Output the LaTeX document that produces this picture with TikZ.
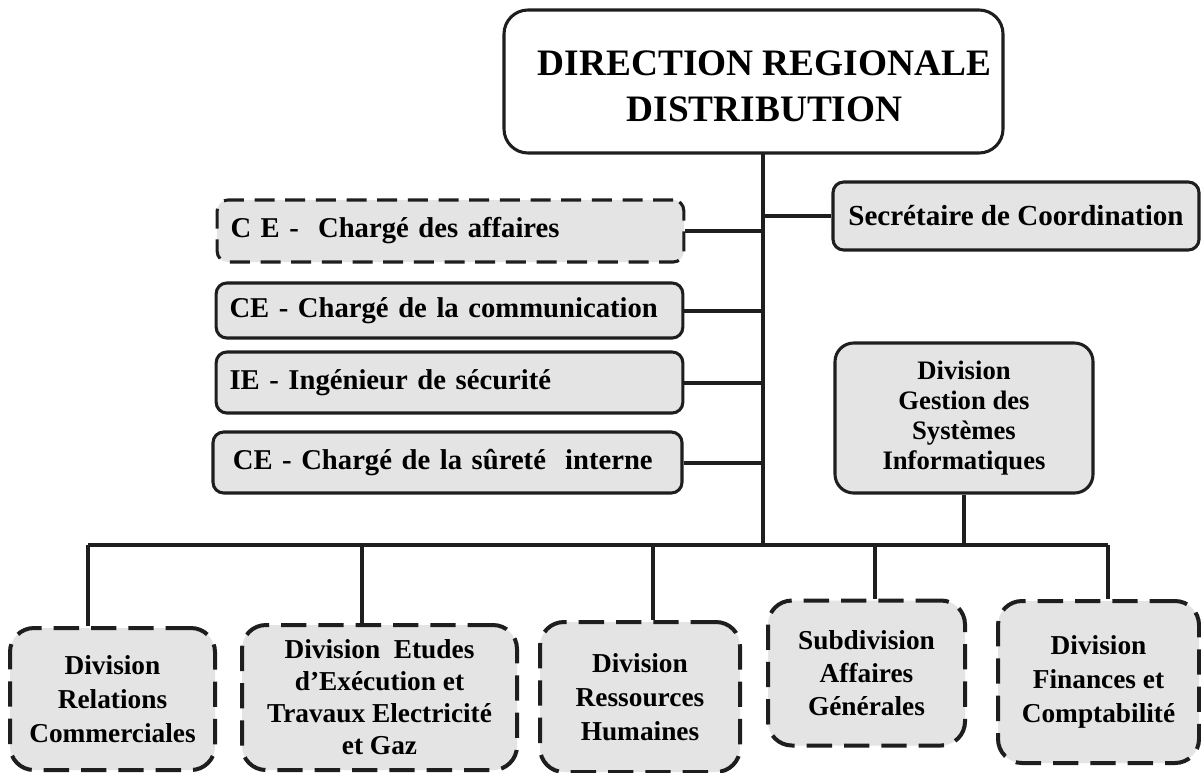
\documentclass[tikz,border=0pt]{standalone}
\usepackage{fontspec}
\setmainfont{Liberation Serif}
\definecolor{boxfill}{HTML}{E4E4E4}
\definecolor{ink}{HTML}{1E1E1E}
\begin{document}
\begin{tikzpicture}[x=0.75pt,y=-0.75pt,
  sz/.style 2 args={minimum width=#1*0.75pt,minimum height=#2*0.75pt},
  base/.style={draw=ink,line width=2.3pt,fill=boxfill,inner sep=0pt,
    align=center,font=\bfseries},
  headbox/.style={base,fill=white,rounded corners=18pt},
  headtext/.style={inner sep=0pt,align=center,
    font=\bfseries\fontsize{28}{34.5}\selectfont},
  staffbox/.style={base,rounded corners=8pt,inner xsep=10pt,
    font=\bfseries\fontsize{21.5}{25}\selectfont},
  sidebox/.style={base,rounded corners=14pt,
    font=\bfseries\fontsize{20}{22.5}\selectfont},
  divbox/.style={base,line width=3pt,rounded corners=18pt,
    dash pattern=on 19pt off 9pt,
    font=\bfseries\fontsize{20.5}{25.5}\selectfont},
  link/.style={draw=ink,line width=3pt},
]
\useasboundingbox[fill=white] (0,0) rectangle (1201,772);

% head of the organisation
\node[headbox,sz={499}{143}] (dir) at (753.5,81.5) {};
\node[headtext] (dirtext) at (764.5,86.5) {DIRECTION REGIONALE\\DISTRIBUTION};

% staff positions attached to the direction
\node[base,rounded corners=8pt,font=\bfseries\fontsize{21.8}{25}\selectfont,
  sz={366}{68}] (sc) at (1016,216) {Secrétaire de Coordination};
\node[staffbox,dash pattern=on 15pt off 8pt,sz={465}{62},text width=330pt,align=left]
  (ca) at (450.5,231) {C E -\ \ Chargé des affaires};
\node[staffbox,sz={465}{55},text width=330pt,align=left]
  (cc) at (449.5,310.5) {CE - Chargé de la communication};
\node[staffbox,sz={465}{61},text width=330pt,align=left]
  (is) at (449.5,382.5) {IE - Ingénieur de sécurité};
\node[staffbox,sz={469}{61},text width=330pt,align=left]
  (cs) at (447.5,462.5) {\hspace{4pt}CE - Chargé de la sûreté\ \ interne};

\node[sidebox,sz={258}{150}] (gsi) at (964,418)
  {Division\\Gestion des\\Systèmes\\Informatiques};

% operational divisions
\node[divbox,sz={205}{142}] (rc) at (112.5,699)
  {Division\\Relations\\Commerciales};
\node[divbox,sz={275}{145},font=\bfseries\fontsize{20.5}{24}\selectfont] (ee) at (379.5,697.5)
  {Division\ \ Etudes\\d’Exécution et\\Travaux Electricité\\et Gaz};
\node[divbox,sz={200}{150}] (rh) at (640,697)
  {Division\\Ressources\\Humaines};
\node[divbox,sz={197}{145},font=\bfseries\fontsize{20.5}{24.5}\selectfont] (ag) at (866.5,673)
  {Subdivision\\Affaires\\Générales};
\node[divbox,sz={201}{162}] (fc) at (1098.5,682)
  {Division\\Finances et\\Comptabilité};

% trunk and bus
\coordinate (t0) at (763,153);
\coordinate (t1) at (763,545);
\coordinate (b1) at (88,545);
\coordinate (b2) at (362,545);
\coordinate (b3) at (653,545);
\coordinate (b4) at (875,545);
\coordinate (b5) at (1108,545);

\draw[link] (t0) -- (t1);
\draw[link] (b1) -- (b5);
\draw[link] (ca.east) -- (ca.east -| t0);
\draw[link] (cc.east) -- (cc.east -| t0);
\draw[link] (is.east) -- (is.east -| t0);
\draw[link] (cs.east) -- (cs.east -| t0);
\draw[link] (sc.west) -- (sc.west -| t0);
\draw[link] (gsi.south) -- (gsi.south |- t1);
\draw[link] (b1) -- (b1 |- rc.north);
\draw[link] (b2) -- (b2 |- ee.north);
\draw[link] (b3) -- (b3 |- rh.north);
\draw[link] (b4) -- (b4 |- ag.north);
\draw[link] (b5) -- (b5 |- fc.north);
\end{tikzpicture}
\end{document}
